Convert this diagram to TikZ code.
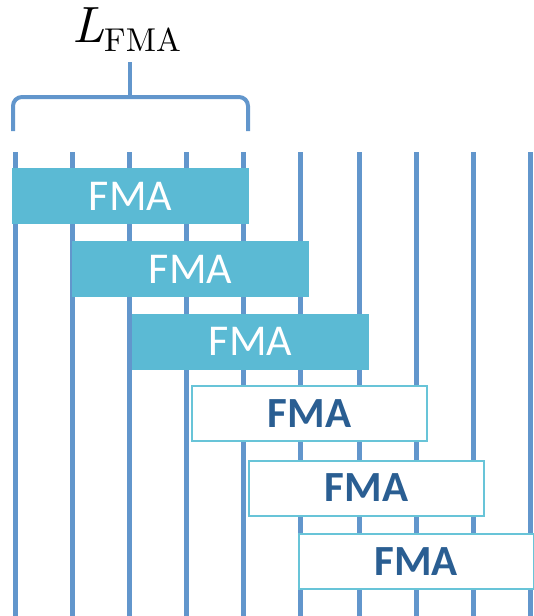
\documentclass[tikz,border=0pt]{standalone}
\usepackage{fontspec}
\setsansfont{Carlito}
\newfontfamily\lmten{lmroman10-regular.otf}[ItalicFont=lmroman10-italic.otf]
\usetikzlibrary{positioning}
\definecolor{laneblue}{RGB}{98,150,204}
\definecolor{fmafill}{RGB}{91,186,212}
\definecolor{fmaedge}{RGB}{104,196,216}
\definecolor{fmatext}{RGB}{42,94,146}
\tikzset{
    lane/.style = {
        draw = laneblue,
        line width = 5pt,
        },
    brace line/.style = {
        draw = laneblue,
        line width = 4pt,
        rounded corners = 9pt,
        },
    fma done/.style = {
        fill = fmafill,
        text = white,
        minimum width = 237pt,
        minimum height = 56pt,
        inner sep = 0pt,
        font = \sffamily\fontsize{44}{48}\selectfont,
        },
    fma open/.style = {
        fill = white,
        draw = fmaedge,
        line width = 2pt,
        text = fmatext,
        minimum width = 235pt,
        minimum height = 55pt,
        inner sep = 0pt,
        font = \sffamily\bfseries\fontsize{43}{47}\selectfont,
        },
}
\begin{document}
\begin{tikzpicture}[x=1pt, y=-1pt]
            \useasboundingbox (0,0) rectangle (533,616);

            % lanes
            \foreach \x in {15,72,129,186,243,300,359,416,473,530}
                \draw[lane] (\x,152) -- (\x,616);

            \node[fma done] (f1) at (130.5,196) {FMA};
            \node[fma done] (f2) at (190.5,269) {FMA};
            \node[fma done] (f3) at (250.5,341.5) {FMA};
            \node[fma open] (f4) at (309.5,413.5) {FMA};
            \node[fma open] (f5) at (366.5,488) {FMA};
            \node[fma open] (f6) at (416,561.5) {FMA};

            % brace over the first FMA
            \coordinate (bl) at (13,131);
            \coordinate (br) at (248,131);
            \coordinate (bm) at (130,97);
            \coordinate (bt) at (130,62);
            \draw[brace line] (bl) |- (bm) -| (br);
            \draw[brace line] (bt) -- (bm);
            \node[anchor=base, inner sep=0pt, font=\lmten] (len) at (126.5,42)
                {{\fontsize{51}{55}\selectfont\itshape L}\raisebox{-9pt}{\fontsize{33}{37}\selectfont FMA}};
        \end{tikzpicture}
\end{document}
